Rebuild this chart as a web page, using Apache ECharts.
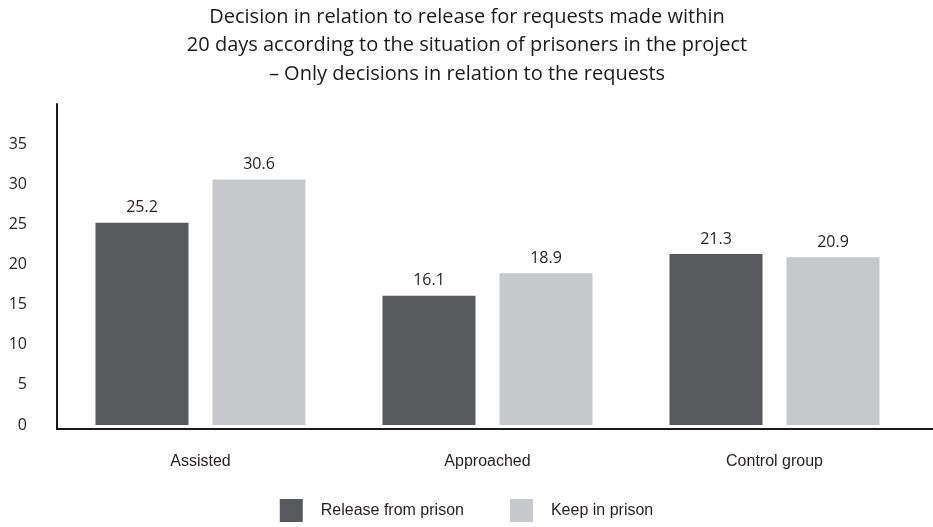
<!DOCTYPE html>
<html>
<head>
<meta charset="utf-8">
<script src="https://cdn.jsdelivr.net/npm/echarts@6/dist/echarts.min.js"></script>
<style>
  html, body { margin: 0; padding: 0; background: #ffffff; }
  #chart { width: 933px; height: 527px; }
</style>
</head>
<body>
<div id="chart"></div>
<script>
// Groups along the x axis
const categories = ['Assisted', 'Approached', 'Control group'];

// Percentages per decision
const releaseFromPrison = [25.2, 16.1, 21.3];
const keepInPrison = [30.6, 18.9, 20.9];

// Labelled y-axis values
const yTickLabels = [0, 5, 10, 15, 20, 25, 30, 35];

const titleText = 'Decision in relation to release for requests made within\n' +
  '20 days according to the situation of prisoners in the project\n' +
  '– Only decisions in relation to the requests';

const DARK = '#58595b';
const LIGHT = '#c7c8ca';
const INK = '#231f20';

const chart = echarts.init(document.getElementById('chart'), null, { renderer: 'canvas' });

const labelStyle = {
  show: true,
  position: 'top',
  distance: 7,
  fontFamily: 'Open Sans',
  fontSize: 16,
  color: INK
};

chart.setOption({
  animation: false,
  backgroundColor: '#ffffff',
  title: {
    text: titleText,
    left: 467,
    top: 3,
    padding: 0,
    textAlign: 'center',
    textStyle: {
      fontFamily: 'Open Sans',
      fontSize: 20,
      fontWeight: 'normal',
      lineHeight: 28.5,
      color: '#1a1a1a'
    }
  },
  legend: {
    data: ['Release from prison', 'Keep in prison'],
    left: 'center',
    top: 494,
    icon: 'rect',
    itemWidth: 23,
    itemHeight: 23,
    itemGap: 46,
    textStyle: {
      fontFamily: 'Liberation Sans',
      fontSize: 16,
      color: INK,
      padding: [0, 0, 0, 13]
    }
  },
  grid: [
    { left: 57, right: 15, top: 104, bottom: 98 },
    { left: 57, right: 0, top: 104, bottom: 98 }
  ],
  xAxis: [
    {
      type: 'category',
      gridIndex: 0,
      data: categories,
      axisLine: { show: false },
      axisTick: { show: false },
      axisLabel: {
        margin: 25,
        fontFamily: 'Liberation Sans',
        fontSize: 16,
        color: INK
      }
    },
    {
      // baseline running across the full width
      type: 'value',
      gridIndex: 1,
      min: 0,
      max: 1,
      axisLine: { show: true, onZero: false, lineStyle: { color: '#1a1a1a', width: 2 } },
      axisTick: { show: false },
      axisLabel: { show: false },
      splitLine: { show: false }
    }
  ],
  yAxis: [
    {
      type: 'value',
      gridIndex: 0,
      min: -0.5,
      max: 40,
      axisLine: { show: true, lineStyle: { color: '#1a1a1a', width: 2 } },
      axisTick: { show: false },
      splitLine: { show: false },
      axisLabel: {
        customValues: yTickLabels,
        margin: 30,
        fontFamily: 'Open Sans',
        fontSize: 16,
        color: INK
      }
    },
    {
      type: 'value',
      gridIndex: 1,
      show: false,
      min: 0,
      max: 1
    }
  ],
  series: [
    {
      name: 'Release from prison',
      type: 'bar',
      xAxisIndex: 0,
      yAxisIndex: 0,
      data: releaseFromPrison,
      barWidth: 93,
      barGap: '25.8%',
      itemStyle: { color: DARK },
      label: labelStyle
    },
    {
      name: 'Keep in prison',
      type: 'bar',
      xAxisIndex: 0,
      yAxisIndex: 0,
      data: keepInPrison,
      barWidth: 93,
      barGap: '25.8%',
      itemStyle: { color: LIGHT },
      label: labelStyle
    }
  ]
});
</script>
</body>
</html>
